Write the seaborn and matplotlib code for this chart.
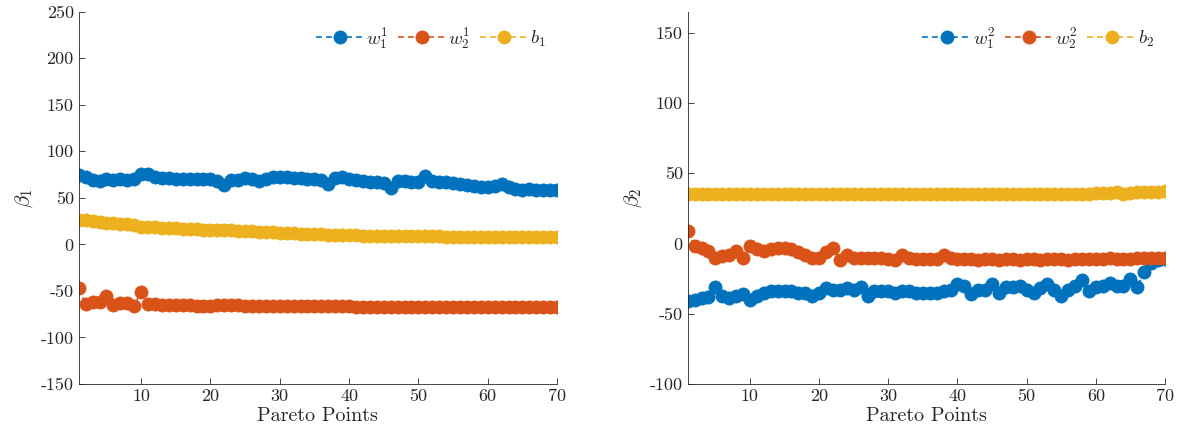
import numpy as np
import pandas as pd
import matplotlib
matplotlib.use("Agg")
import matplotlib.pyplot as plt
import seaborn as sns

# Pareto point index
points = np.arange(1, 71)

# --- left panel: beta_1 ---
w1_1 = [75, 72, 69, 68, 70, 69, 70, 69, 70, 76, 76, 72, 71, 71, 70, 70, 70, 70, 70, 70,
        68, 64, 69, 69, 71, 70, 68, 70, 72, 72, 72, 71, 71, 70, 70, 69, 65, 71, 72, 70,
        69, 68, 67, 67, 66, 61, 68, 68, 67, 67, 73, 68, 67, 67, 66, 65, 64, 63, 62, 62,
        63, 65, 62, 60, 58, 59, 58, 58, 58, 58]
w2_1 = [-47, -64, -62, -62, -55, -65, -63, -63, -66, -51, -64, -64, -65, -65, -65, -65, -65, -66, -66, -66,
        -65, -65, -65, -65, -66, -66, -66, -66, -66, -66, -66, -66, -66, -66, -66, -66, -66, -66, -66, -66,
        -67, -67, -67, -67, -67, -67, -67, -67, -67, -67, -67, -67, -67, -67, -67, -67, -67, -67, -67, -67,
        -67, -67, -67, -67, -67, -67, -67, -67, -67, -67]
b_1 = [26, 26, 25, 24, 23, 22.5, 22, 21.5, 21, 19, 19, 18.5, 18, 18, 17.5, 17, 17, 16.5, 16, 16,
       15.5, 15, 15, 14.5, 14, 14, 13.5, 13, 13, 12.5, 12, 12, 11.5, 11.5, 11, 11, 10.5, 10.5, 10, 10,
       10, 9.5, 9.5, 9.5, 9, 9, 9, 8.5, 8.5, 8.5, 8.5, 8.5, 8.5, 8, 8, 8, 8, 8, 8, 8,
       8, 8, 7.5, 7.5, 7.5, 7.5, 7.5, 7.5, 7.5, 7.5]

# --- right panel: beta_2 ---
w1_2 = [-41, -40, -39, -38, -31, -37, -39, -37, -36, -40, -37, -35, -34, -34, -34, -34, -35, -35, -37, -35,
        -32, -33, -33, -32, -33, -31, -37, -34, -34, -34, -35, -34, -34, -35, -35, -35, -35, -34, -33, -29,
        -30, -36, -33, -33, -29, -35, -31, -31, -30, -33, -35, -32, -29, -33, -37, -33, -30, -26, -34, -31,
        -30, -28, -30, -30, -25, -31, -20, -14, -12, -11]
w2_2 = [9, -2, -3, -5, -10, -9, -8, -5, -10, -2, -4, -5, -4, -3, -3, -4, -6, -8, -10, -10,
        -6, -3, -12, -8, -10, -10, -10, -10, -10, -11, -12, -8, -10, -11, -11, -11, -11, -8, -10, -11,
        -11, -11, -12, -11, -11, -12, -11, -11, -12, -11, -11, -12, -11, -11, -11, -12, -11, -11, -11, -11,
        -11, -10, -11, -11, -11, -10, -10, -10, -10, -10]
b_2 = [35, 35, 35, 35, 35, 35, 35, 35, 35, 35, 35, 35, 35, 35, 35, 35, 35, 35, 35, 35,
       35, 35, 35, 35, 35, 35, 35, 35, 35, 35, 35, 35, 35, 35, 35, 35, 35, 35, 35, 35,
       35, 35, 35, 35, 35, 35, 35, 35, 35, 35, 35, 35, 35, 35, 35, 35.5, 35.5, 35.5, 35.5, 36,
       36, 36, 36.5, 35.5, 36, 36.5, 36.5, 37, 37, 37.5]

colors = ["#0072BD", "#D95319", "#EDB120"]

sns.set_style("ticks")
plt.rcParams["font.family"] = ["cmr10", "DejaVu Serif"]
plt.rcParams["mathtext.fontset"] = "cm"
plt.rcParams["axes.unicode_minus"] = False
plt.rcParams["axes.formatter.use_mathtext"] = False

fig = plt.figure(figsize=(11.89, 4.44), dpi=100)
ax1 = fig.add_axes([0.0662, 0.1351, 0.4023, 0.8385])
ax2 = fig.add_axes([0.5784, 0.1351, 0.4014, 0.8385])

panels = [
    (ax1, [w1_1, w2_1, b_1], [r"$w_1^1$", r"$w_2^1$", r"$b_1$"], r"$\beta_1$", (-150, 250),
     [-150, -100, -50, 0, 50, 100, 150, 200, 250]),
    (ax2, [w1_2, w2_2, b_2], [r"$w_1^2$", r"$w_2^2$", r"$b_2$"], r"$\beta_2$", (-100, 165),
     [-100, -50, 0, 50, 100, 150]),
]

for ax, series, labels, ylab, ylim, yticks in panels:
    for vals, lab, col in zip(series, labels, colors):
        sns.lineplot(x=points, y=vals, ax=ax, color=col, label=lab,
                     linestyle=(0, (3.5, 2.5)), linewidth=1.2, marker="o", markersize=9.5,
                     markeredgecolor=col, markeredgewidth=0.5)
    ax.set_xlim(1, 70)
    ax.set_ylim(*ylim)
    ax.set_xticks([10, 20, 30, 40, 50, 60, 70])
    ax.set_yticks(yticks)
    ax.set_xlabel("Pareto Points", fontsize=14.5, labelpad=2)
    ax.set_ylabel(ylab, fontsize=15)
    ax.tick_params(direction="in", labelsize=13, length=4, width=0.6, colors="#262626")
    for s in ["top", "right"]:
        ax.spines[s].set_visible(False)
    for s in ["left", "bottom"]:
        ax.spines[s].set_linewidth(0.6)
        ax.spines[s].set_color("#262626")
    ax.legend(loc="upper right", ncol=3, frameon=False, fontsize=13.5,
              handlelength=2.6, handletextpad=0.1, columnspacing=0.5,
              bbox_to_anchor=(1.0, 0.995), borderaxespad=0.2)

fig.savefig("out.png", dpi=100)
